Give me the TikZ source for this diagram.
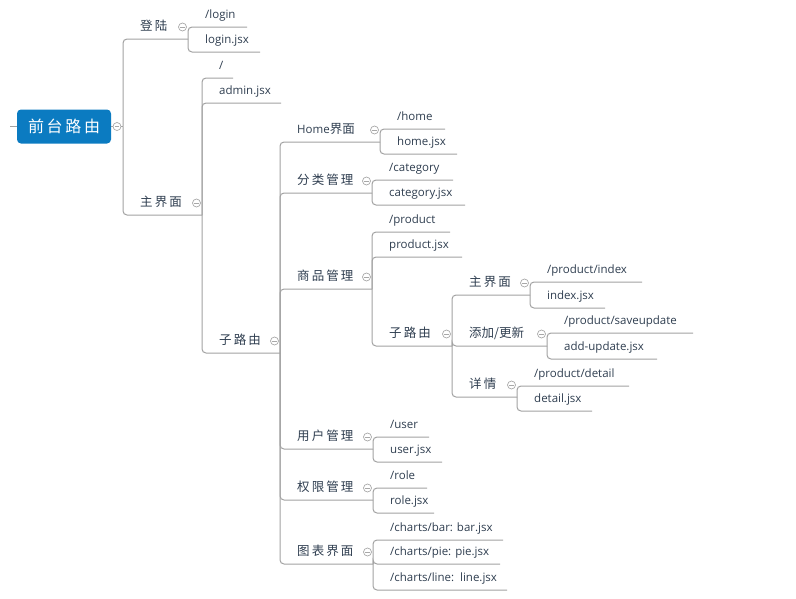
\documentclass[tikz,border=0pt]{standalone}
\usepackage{fontspec}
\setmainfont{Open Sans}
\newfontfamily\cjk{Noto Sans CJK SC}
\definecolor{lineC}{HTML}{A2A2A2}
\definecolor{textC}{HTML}{2E3D4F}
\definecolor{rootC}{HTML}{0B7BC1}
\definecolor{circC}{HTML}{A8A8A8}
\newcommand\cjt[1]{{\cjk\fontsize{12.5}{14}\selectfont #1}}
% name, connector x, underline y, underline end x, text
\newcommand\mmtopic[6][lbl]{%
  \coordinate (#2-e) at (#5,#4);
  \node[#1] (#2) at ({#3+17},{#4-8.5}) {#6};
}
\newcommand\mmcirc[1]{%
  \path (#1-e) ++(-5.5,-12) node[collapse] (#1-c) {};
}
\begin{document}
\begin{tikzpicture}[x=1pt,y=-1pt,
  conn/.style={draw=lineC, line width=1pt, rounded corners=4pt},
  lbl/.style={font=\fontsize{11.5}{13}\selectfont, text=textC, inner sep=0pt, anchor=base west},
  cj/.style={font=\cjk\fontsize{12.5}{14}\selectfont, text=textC, inner sep=0pt, anchor=base west},
  collapse/.style={circle, draw=circC, fill=white, line width=0.7pt, minimum size=8pt, inner sep=0pt,
    path picture={\draw[circC, line width=0.7pt] ([xshift=-2.2pt]path picture bounding box.center) -- ([xshift=2.2pt]path picture bounding box.center);}},
  rootbox/.style={fill=rootC, rounded corners=4pt, minimum width=94pt, minimum height=34pt, inner sep=0pt,
    text=white, font=\cjk\fontsize{16}{18}\selectfont}]
\useasboundingbox (0,0) rectangle (796,598);

% root
\node[rootbox] (root) at (64,126.5) {前\,台\,路\,由};
\coordinate (root-e) at (123,126.5);
\coordinate (stub) at (10,126.5);
\draw[conn] (stub) -- (root.west);
\draw[conn] (root.east) -- (root-e);

% level 1
\mmtopic[cj]{dl}{123}{39}{188}{登\,陆}
\mmtopic[cj]{zjm}{123}{215}{202}{主\,界\,面}

% 登陆 children
\mmtopic{login}{188}{27}{247}{/login}
\mmtopic{loginjsx}{188}{52}{260}{login.jsx}

% 主界面 children
\mmtopic{slash}{202}{78}{233}{/}
\mmtopic{admin}{202}{103}{281}{admin.jsx}
\mmtopic[cj]{zly}{202}{353}{280}{子\,路\,由}

% 子路由 children
\mmtopic{home}{280}{142}{380}{Home\cjt{界面}}
\mmtopic[cj]{fl}{280}{193}{372}{分\,类\,管\,理}
\mmtopic[cj]{sp}{280}{289}{372}{商\,品\,管\,理}
\mmtopic[cj]{yh}{280}{449}{373}{用\,户\,管\,理}
\mmtopic[cj]{qx}{280}{500}{373}{权\,限\,管\,理}
\mmtopic[cj]{tb}{280}{564}{373}{图\,表\,界\,面}

% Home children
\mmtopic{homeu}{380}{129}{445}{/home}
\mmtopic{homej}{380}{154}{457}{home.jsx}
% 分类 children
\mmtopic{catu}{372}{180}{453}{/category}
\mmtopic{catj}{372}{205}{465}{category.jsx}
% 商品 children
\mmtopic{produ}{372}{232}{450}{/product}
\mmtopic{prodj}{372}{257}{462}{product.jsx}
\mmtopic[cj]{zly2}{372}{346}{452}{子\,路\,由}
% inner 子路由 children
\mmtopic[cj]{zjm2}{452}{295}{530}{主\,界\,面}
\mmtopic[cj]{tj}{452}{346}{547}{添加/更新}
\mmtopic[cj]{xq}{452}{397}{517}{详\,情}
% inner 主界面 children
\mmtopic{idxu}{530}{282}{642}{/product/index}
\mmtopic{idxj}{530}{308}{605}{index.jsx}
% 添加/更新 children
\mmtopic{suu}{547}{333}{693}{/product/saveupdate}
\mmtopic{suj}{547}{359}{657}{add-update.jsx}
% 详情 children
\mmtopic{detu}{517}{386}{629}{/product/detail}
\mmtopic{detj}{517}{411}{592}{detail.jsx}
% 用户 children
\mmtopic{useru}{373}{437}{429}{/user}
\mmtopic{userj}{373}{462}{442}{user.jsx}
% 权限 children
\mmtopic{roleu}{373}{488}{427}{/role}
\mmtopic{rolej}{373}{513}{434}{role.jsx}
% 图表 children
\mmtopic{bar}{373}{540}{503}{/charts/bar: bar.jsx}
\mmtopic{pie}{373}{564}{500}{/charts/pie: pie.jsx}
\mmtopic{line}{373}{590}{507}{/charts/line:\ \ line.jsx}

% connectors
\foreach \p/\c in {root/dl, root/zjm,
  dl/login, dl/loginjsx,
  zjm/slash, zjm/admin, zjm/zly,
  zly/home, zly/fl, zly/sp, zly/yh, zly/qx, zly/tb,
  home/homeu, home/homej,
  fl/catu, fl/catj,
  sp/produ, sp/prodj, sp/zly2,
  zly2/zjm2, zly2/tj, zly2/xq,
  zjm2/idxu, zjm2/idxj,
  tj/suu, tj/suj,
  xq/detu, xq/detj,
  yh/useru, yh/userj,
  qx/roleu, qx/rolej,
  tb/bar, tb/pie, tb/line}
  {\draw[conn] (\p-e) |- (\c-e);}

% collapse circles
\node[collapse] (root-c) at (117,126.5) {};
\foreach \n in {dl, zjm, zly, home, fl, sp, zly2, zjm2, tj, xq, yh, qx, tb}
  {\mmcirc{\n}}
\end{tikzpicture}
\end{document}
